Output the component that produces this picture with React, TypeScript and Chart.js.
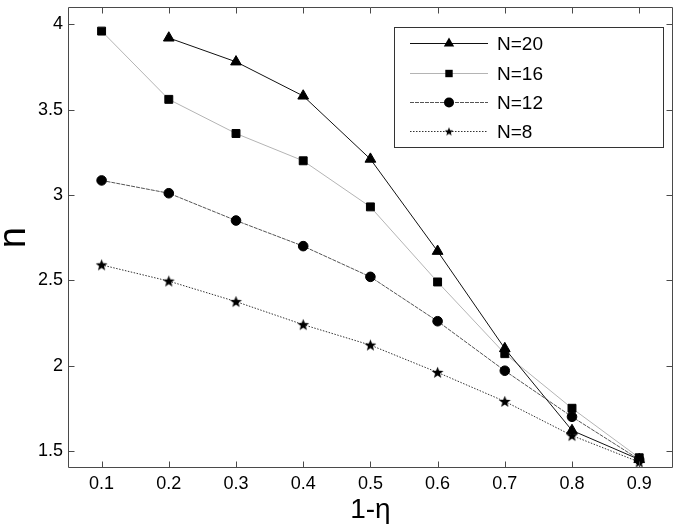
import { useEffect, useRef } from 'react';
import { Chart, registerables } from 'chart.js';

Chart.register(...registerables);

const xValues = [0.1, 0.2, 0.3, 0.4, 0.5, 0.6, 0.7, 0.8, 0.9];
const n20: (number | null)[] = [null, 3.92, 3.78, 3.58, 3.21, 2.67, 2.1, 1.62, 1.45];
const n16: (number | null)[] = [3.96, 3.56, 3.36, 3.2, 2.93, 2.49, 2.07, 1.75, 1.46];
const n12: (number | null)[] = [3.085, 3.01, 2.85, 2.7, 2.52, 2.26, 1.97, 1.7, 1.45];
const n8: (number | null)[] = [2.59, 2.495, 2.375, 2.24, 2.12, 1.96, 1.79, 1.59, 1.435];

const xTicks = [0.1, 0.2, 0.3, 0.4, 0.5, 0.6, 0.7, 0.8, 0.9];
const yTicks = [1.5, 2, 2.5, 3, 3.5, 4];
const legendLabels = ['N=20', 'N=16', 'N=12', 'N=8'];
const xTitle = '1-η';
const yTitle = 'n';

const FONT = '"Liberation Sans", Arial, Helvetica, sans-serif';

function makeStar(outer: number, inner: number): HTMLCanvasElement {
  const size = Math.ceil(outer * 2) + 2;
  const c = document.createElement('canvas');
  c.width = size;
  c.height = size;
  const ctx = c.getContext('2d')!;
  ctx.beginPath();
  for (let i = 0; i < 10; i++) {
    const r = i % 2 === 0 ? outer : inner;
    const a = -Math.PI / 2 + (i * Math.PI) / 5;
    const px = size / 2 + r * Math.cos(a);
    const py = size / 2 + 0.4 + r * Math.sin(a);
    if (i === 0) ctx.moveTo(px, py);
    else ctx.lineTo(px, py);
  }
  ctx.closePath();
  ctx.fillStyle = '#000';
  ctx.fill();
  return c;
}

function toPoints(vals: (number | null)[]) {
  const out: { x: number; y: number }[] = [];
  vals.forEach((v, i) => {
    if (v !== null) out.push({ x: xValues[i], y: v });
  });
  return out;
}

function drawMarker(ctx: CanvasRenderingContext2D, kind: string, x: number, y: number, star: HTMLCanvasElement) {
  ctx.fillStyle = '#000';
  ctx.beginPath();
  if (kind === 'triangle') {
    const r = 6;
    for (let i = 0; i < 3; i++) {
      const a = -Math.PI / 2 + (i * 2 * Math.PI) / 3;
      const px = x + r * Math.cos(a);
      const py = y + r * Math.sin(a);
      if (i === 0) ctx.moveTo(px, py);
      else ctx.lineTo(px, py);
    }
    ctx.closePath();
    ctx.fill();
  } else if (kind === 'rect') {
    ctx.rect(x - 3.7, y - 3.7, 7.4, 7.4);
    ctx.fill();
  } else if (kind === 'circle') {
    ctx.arc(x, y, 5, 0, Math.PI * 2);
    ctx.fill();
  } else {
    ctx.drawImage(star, x - star.width / 2, y - star.height / 2);
  }
}

export default function App() {
  const ref = useRef<HTMLCanvasElement>(null);

  useEffect(() => {
    if (!ref.current) return;
    const starBig = makeStar(6.2, 2.6);
    const starSmall = makeStar(4.6, 1.9);

    const kinds = ['triangle', 'rect', 'circle', 'star'];

    const framePlugin = {
      id: 'frameAndLegend',
      afterDraw(chart: any) {
        const { ctx, chartArea: a, scales } = chart;
        ctx.save();
        const L = Math.round(a.left) + 0.5;
        const R = Math.round(a.right) - 0.5;
        const T = Math.round(a.top) + 0.5;
        const B = Math.round(a.bottom) - 0.5;
        ctx.strokeStyle = '#4a4a4a';
        ctx.lineWidth = 1;
        ctx.beginPath();
        ctx.rect(L, T, R - L, B - T);
        ctx.stroke();
        const tl = 6;
        ctx.beginPath();
        xTicks.forEach((v) => {
          const px = Math.round(scales.x.getPixelForValue(v)) + 0.5;
          ctx.moveTo(px, B);
          ctx.lineTo(px, B - tl);
          ctx.moveTo(px, T);
          ctx.lineTo(px, T + tl);
        });
        yTicks.forEach((v) => {
          const py = Math.round(scales.y.getPixelForValue(v)) + 0.5;
          ctx.moveTo(L, py);
          ctx.lineTo(L + tl, py);
          ctx.moveTo(R, py);
          ctx.lineTo(R - tl, py);
        });
        ctx.stroke();

        // legend
        const bx = 394.5, by = 27.5, bw = 269, bh = 120;
        ctx.fillStyle = '#fff';
        ctx.fillRect(bx, by, bw, bh);
        ctx.strokeStyle = '#333';
        ctx.strokeRect(bx, by, bw, bh);
        const rows = [43.5, 73.5, 102.5, 131.5];
        chart.data.datasets.forEach((ds: any, i: number) => {
          const y = rows[i];
          ctx.save();
          ctx.strokeStyle = ds.borderColor;
          ctx.lineWidth = ds.borderWidth;
          ctx.setLineDash(ds.borderDash || []);
          ctx.beginPath();
          ctx.moveTo(410, y);
          ctx.lineTo(488, y);
          ctx.stroke();
          ctx.restore();
          drawMarker(ctx, kinds[i], 449, y, starSmall);
          ctx.fillStyle = '#000';
          ctx.font = `19px ${FONT}`;
          ctx.textAlign = 'left';
          ctx.textBaseline = 'middle';
          ctx.fillText(legendLabels[i], 497, y + 1);
        });
        ctx.restore();
      },
    };

    const chart = new Chart(ref.current, {
      type: 'line',
      data: {
        datasets: [
          {
            label: legendLabels[0],
            data: toPoints(n20),
            borderColor: '#111',
            borderWidth: 1,
            pointStyle: 'triangle',
            pointRadius: 6.2,
            pointBackgroundColor: '#000',
            pointBorderColor: '#000',
            pointBorderWidth: 1,
          },
          {
            label: legendLabels[1],
            data: toPoints(n16),
            borderColor: '#b4b4b4',
            borderWidth: 1,
            pointStyle: 'rect',
            pointRadius: 5.6,
            pointBackgroundColor: '#000',
            pointBorderColor: '#000',
            pointBorderWidth: 1,
          },
          {
            label: legendLabels[2],
            data: toPoints(n12),
            borderColor: '#555',
            borderWidth: 1,
            borderDash: [4, 1],
            pointStyle: 'circle',
            pointRadius: 4.8,
            pointBackgroundColor: '#000',
            pointBorderColor: '#000',
            pointBorderWidth: 1,
          },
          {
            label: legendLabels[3],
            data: toPoints(n8),
            borderColor: '#333',
            borderWidth: 1,
            borderDash: [1.5, 1.5],
            pointStyle: starBig,
            pointRadius: 5,
            pointBackgroundColor: '#000',
            pointBorderColor: '#000',
          },
        ],
      },
      options: {
        responsive: false,
        animation: false,
        devicePixelRatio: 1,
        layout: { padding: { top: 2, right: 4, left: 0, bottom: 0 } },
        plugins: {
          legend: { display: false },
          tooltip: { enabled: false },
        },
        scales: {
          x: {
            type: 'linear',
            min: 0.05,
            max: 0.95,
            grid: { display: false, drawTicks: false },
            border: { display: false },
            afterBuildTicks: (scale: any) => {
              scale.ticks = xTicks.map((v) => ({ value: v }));
            },
            afterFit: (scale: any) => {
              scale.height = 59;
              scale.paddingLeft = 0;
              scale.paddingRight = 0;
            },
            ticks: {
              autoSkip: false,
              maxRotation: 0,
              padding: 5,
              color: '#000',
              font: { family: FONT, size: 18 },
              callback: (v: any) => Number(v).toFixed(1),
            },
            title: {
              display: true,
              text: xTitle,
              color: '#000',
              font: { family: FONT, size: 28, lineHeight: 1 },
              padding: { top: 0, bottom: 3 },
            },
          },
          y: {
            type: 'linear',
            min: 1.4,
            max: 4.1,
            grid: { display: false, drawTicks: false },
            border: { display: false },
            afterBuildTicks: (scale: any) => {
              scale.ticks = yTicks.map((v) => ({ value: v }));
            },
            afterFit: (scale: any) => {
              scale.width = 68;
              scale.paddingTop = 0;
              scale.paddingBottom = 0;
            },
            ticks: {
              autoSkip: false,
              padding: 5,
              color: '#000',
              font: { family: FONT, size: 18 },
              callback: (v: any) => String(Number(v)),
            },
            title: {
              display: true,
              text: yTitle,
              color: '#000',
              font: { family: FONT, size: 38, lineHeight: 0.75 },
              padding: { top: 0, bottom: 0 },
            },
          },
        },
      },
      plugins: [framePlugin],
    });
    return () => chart.destroy();
  }, []);

  return (
    <div style={{ position: 'absolute', left: 0, top: 0, width: 680, height: 527, background: '#fff' }}>
      <canvas ref={ref} width={680} height={527} />
    </div>
  );
}
